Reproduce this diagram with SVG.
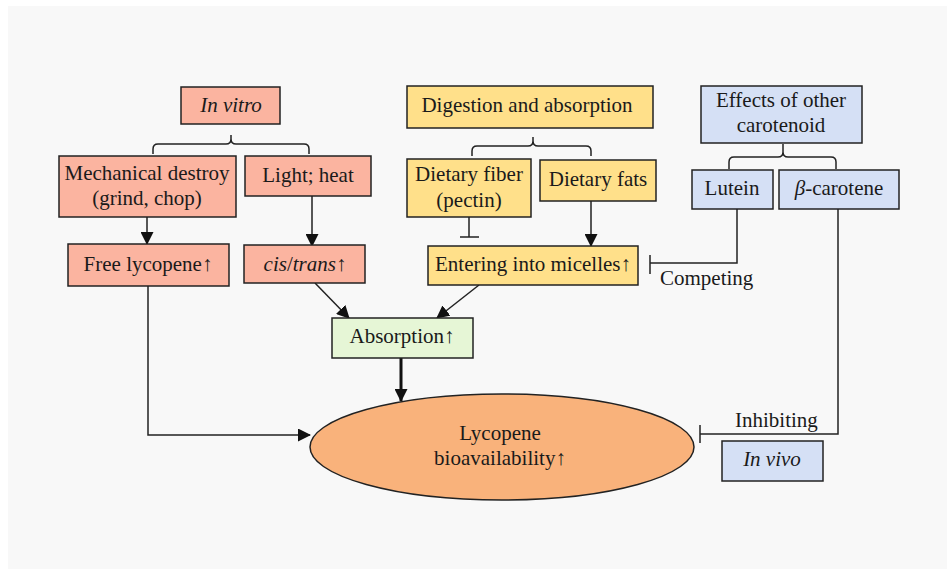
<svg xmlns="http://www.w3.org/2000/svg" width="947" height="569" viewBox="0 0 947 569" font-family="Liberation Serif, DejaVu Serif, serif" font-size="21">
<defs>
<style>
text{fill:#1a1a1a;text-anchor:middle}
.it{font-style:italic}
.lbl{text-anchor:start}
.box{stroke:#222;stroke-width:1.5}
.red{fill:#FBB4A0}
.yel{fill:#FFE08A}
.blu{fill:#D5E0F5}
.grn{fill:#E6F6D6}
.ln{fill:none;stroke:#222;stroke-width:1.5}
</style>
<marker id="ah" markerWidth="13" markerHeight="13" refX="12" refY="6.5" orient="auto" markerUnits="userSpaceOnUse">
<path d="M0,0 L13,6.5 L0,13 z" fill="#111"/>
</marker>
</defs>
<rect x="0" y="0" width="947" height="569" fill="#fff"/>
<rect x="8" y="6" width="939" height="563" fill="#F8F8F8"/>

<g id="connectors">
<path class="ln" d="M153,154 v-5 q0,-5 5,-5 h68 q5,0 5,-5 v-4 v4 q0,5 5,5 h68 q5,0 5,5 v5"/>
<path class="ln" d="M472,156 v-5 q0,-5 5,-5 h51 q5,0 5,-5 v-4 v4 q0,5 5,5 h48 q5,0 5,5 v5"/>
<path class="ln" d="M729,169 v-7 q0,-5 5,-5 h44 q5,0 5,-5 v-8 v8 q0,5 5,5 h43 q5,0 5,5 v7"/>
<line class="ln" x1="147" y1="217" x2="147" y2="244" marker-end="url(#ah)"/>
<line class="ln" x1="312" y1="196" x2="312" y2="246" marker-end="url(#ah)"/>
<line class="ln" x1="591" y1="201" x2="591" y2="246" marker-end="url(#ah)"/>
<path class="ln" d="M469,217 V237 M460,237 H479"/>
<path class="ln" d="M737,209 V263 H650 M650,255 V274"/>
<path class="ln" d="M838,209 V434 H700 M700,425 V443"/>
<line class="ln" x1="315" y1="283" x2="349" y2="318" marker-end="url(#ah)"/>
<line class="ln" x1="479" y1="285" x2="437" y2="318" marker-end="url(#ah)"/>
<line x1="401" y1="358" x2="401" y2="401" stroke="#111" stroke-width="3" marker-end="url(#ah)"/>
<path class="ln" d="M148,286 V435 H310" marker-end="url(#ah)"/>
<text class="lbl" x="660" y="285">Competing</text>
<text class="lbl" x="735" y="427">Inhibiting</text>
</g>

<g id="in-vitro"><rect class="box red" x="181" y="87" width="99" height="37"/><text class="it" x="231" y="112">In vitro</text></g>
<g id="mechanical"><rect class="box red" x="59" y="156" width="177" height="61"/><text x="147" y="180">Mechanical destroy</text><text x="147" y="205">(grind, chop)</text></g>
<g id="light-heat"><rect class="box red" x="245" y="156" width="126" height="40"/><text x="308" y="182">Light; heat</text></g>
<g id="free-lycopene"><rect class="box red" x="68" y="244" width="161" height="42"/><text x="148" y="271">Free lycopene↑</text></g>
<g id="cis-trans"><rect class="box red" x="244" y="245" width="121" height="38"/><text x="305" y="271"><tspan class="it">cis</tspan>/<tspan class="it">trans</tspan>↑</text></g>

<g id="digestion"><rect class="box yel" x="407" y="86" width="246" height="42"/><text x="527" y="112">Digestion and absorption</text></g>
<g id="dietary-fiber"><rect class="box yel" x="407" y="159" width="124" height="58"/><text x="469" y="181">Dietary fiber</text><text x="469" y="207">(pectin)</text></g>
<g id="dietary-fats"><rect class="box yel" x="540" y="160" width="116" height="41"/><text x="598" y="186">Dietary fats</text></g>
<g id="micelles"><rect class="box yel" x="428" y="246" width="210" height="39"/><text x="533" y="271">Entering into micelles↑</text></g>

<g id="effects"><rect class="box blu" x="701" y="86" width="161" height="57"/><text x="781" y="107">Effects of other</text><text x="781" y="132">carotenoid</text></g>
<g id="lutein"><rect class="box blu" x="692" y="170" width="81" height="39"/><text x="732" y="195">Lutein</text></g>
<g id="beta-carotene"><rect class="box blu" x="779" y="170" width="120" height="39"/><text x="839" y="195"><tspan class="it">β</tspan>-carotene</text></g>
<g id="in-vivo"><rect class="box blu" x="722" y="441" width="101" height="40"/><text class="it" x="772" y="466">In vivo</text></g>

<g id="absorption"><rect class="box grn" x="332" y="318" width="141" height="40"/><text x="402" y="343">Absorption↑</text></g>
<g id="bioavailability"><ellipse cx="502" cy="447" rx="192" ry="53" fill="#F9B27B" stroke="#222" stroke-width="1.5"/><text x="500" y="440">Lycopene</text><text x="500" y="465">bioavailability↑</text></g>
</svg>
